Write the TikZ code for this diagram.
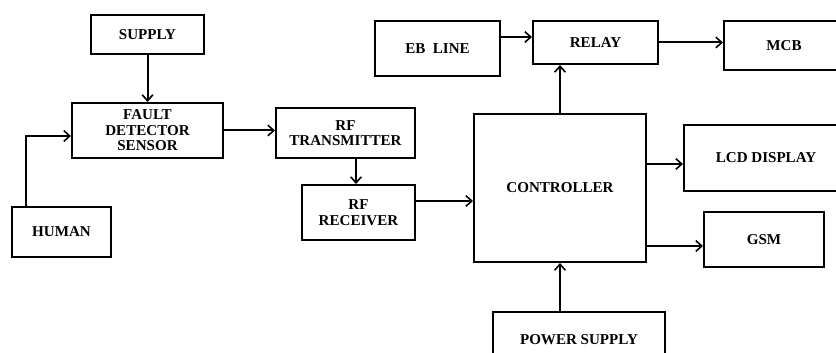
\documentclass[tikz,border=0pt]{standalone}
\usepackage{fontspec}
\setmainfont{Liberation Serif}
\usetikzlibrary{arrows.meta}
\tikzset{
  blk/.style={draw, line width=1.5pt, inner sep=0pt, align=center,
    font=\fontsize{11.3}{11.6}\selectfont\bfseries},
  arr/.style={line width=1.5pt, -{Straight Barb[length=4.5pt,width=8pt,line width=1.2pt]}},
}
\begin{document}
\begin{tikzpicture}[x=0.75pt,y=-0.75pt]
\useasboundingbox (0,0) rectangle (836,353);
\fill[white] (0,0) rectangle (836,353);
\clip (0,0) rectangle (836,353);
\node[blk, minimum width=113*0.75pt, minimum height=39*0.75pt] (supply) at (147.5,34.5) {SUPPLY};
\node[blk, minimum width=151*0.75pt, minimum height=55*0.75pt] (fault) at (147.5,130.5) {FAULT\\DETECTOR\\SENSOR};
\node[blk, minimum width=99*0.75pt, minimum height=50*0.75pt] (human) at (61.5,232) {HUMAN};
\node[blk, minimum width=125*0.75pt, minimum height=55*0.75pt] (eb) at (437.5,48.5) {EB\ \ LINE};
\node[blk, minimum width=125*0.75pt, minimum height=43*0.75pt] (relay) at (595.5,42.5) {RELAY};
\node[blk, minimum width=120*0.75pt, minimum height=49*0.75pt] (mcb) at (784,45.5) {MCB};
\node[blk, minimum width=139*0.75pt, minimum height=50*0.75pt] (tx) at (345.5,133) {RF\\TRANSMITTER};
\node[blk, minimum width=113*0.75pt, minimum height=55*0.75pt] (rx) at (358.5,212.5) {RF\\RECEIVER};
\node[blk, minimum width=172*0.75pt, minimum height=148*0.75pt] (ctrl) at (560,188) {CONTROLLER};
\node[blk, minimum width=164*0.75pt, minimum height=66*0.75pt] (lcd) at (766,158) {LCD DISPLAY};
\node[blk, minimum width=120*0.75pt, minimum height=55*0.75pt] (gsm) at (764,239.5) {GSM};
\node[blk, minimum width=172*0.75pt, minimum height=56*0.75pt] (power) at (579,340) {POWER SUPPLY};

\draw[arr] (supply.south) -- (fault.north);
\draw[arr] (human.north -| 26,0) |- (fault.west |- 0,136);
\draw[arr] (fault.east) -- (fault.east -| tx.west);
\draw[arr] (tx.south -| 356,0) -- (rx.north -| 356,0);
\draw[arr] (rx.east |- 0,201) -- (ctrl.west |- 0,201);
\draw[arr] (ctrl.north) -- (relay.south -| ctrl.north);
\draw[arr] (eb.east |- 0,37) -- (relay.west |- 0,37);
\draw[arr] (relay.east) -- (relay.east -| mcb.west);
\draw[arr] (ctrl.east |- 0,164) -- (lcd.west |- 0,164);
\draw[arr] (ctrl.east |- 0,246) -- (gsm.west |- 0,246);
\draw[arr] (power.north -| ctrl.south) -- (ctrl.south);
\end{tikzpicture}
\end{document}
